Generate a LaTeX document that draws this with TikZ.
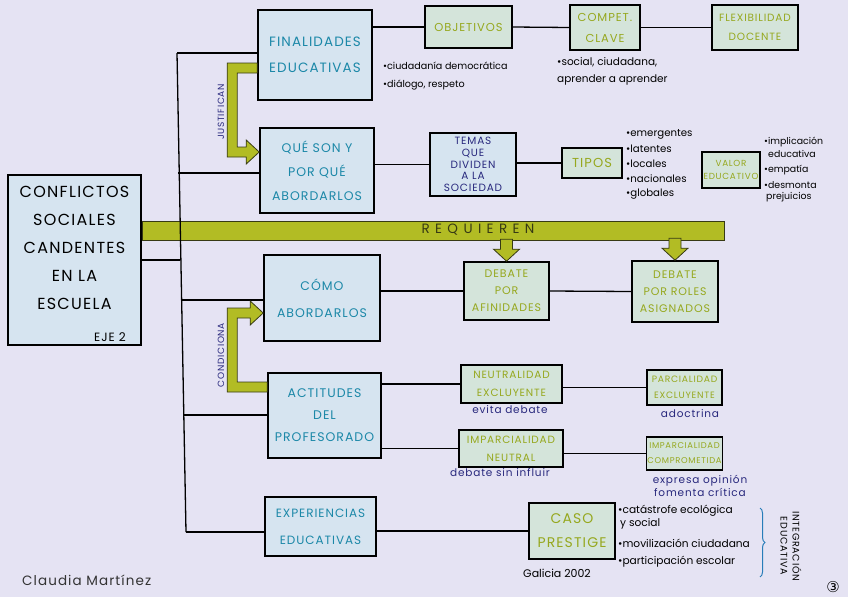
\documentclass[tikz,border=0pt]{standalone}
\usepackage{fontspec}
\setmainfont{Poppins}
\newfontfamily\boxf{Poppins}[LetterSpace=8]
\newfontfamily\widef{Poppins}[LetterSpace=40]
\newfontfamily\symf{DejaVu Sans}
\usetikzlibrary{arrows.meta,decorations.pathreplacing}
\definecolor{bg}{RGB}{229,227,243}
\definecolor{lfill}{RGB}{214,228,240}
\definecolor{rfill}{RGB}{212,228,218}
\definecolor{tealtx}{RGB}{28,136,168}
\definecolor{greentx}{RGB}{150,168,30}
\definecolor{notetx}{RGB}{40,40,125}
\definecolor{bandc}{RGB}{178,188,36}
\definecolor{bandedge}{RGB}{55,58,20}
\definecolor{bracec}{RGB}{40,125,185}
\tikzset{
  boxL/.style={draw=black, line width=1.6pt, fill=lfill, text=tealtx, align=center, inner sep=1pt},
  boxR/.style={draw=black, line width=1.6pt, fill=rfill, text=greentx, align=center, inner sep=1pt},
  conn/.style={draw=black, line width=1.3pt},
  barrow/.style={fill=bandc, draw=bandedge, line width=0.8pt, line join=miter},
  listtx/.style={anchor=west, text=black, inner sep=0pt},
  notetext/.style={text=notetx, inner sep=0pt, align=center},
  sidetx/.style={text=notetx, inner sep=0pt}
}
\newcommand{\fs}[2]{\boxf\fontsize{#1}{#2}\selectfont}
\newcommand{\ps}[2]{\fontsize{#1}{#2}\selectfont}
\begin{document}
\begin{tikzpicture}[x=1pt,y=-1pt]
\fill[bg] (0,0) rectangle (848,597);
\useasboundingbox (0,0) rectangle (848,597);

% main box
\node[draw=black, line width=1.6pt, fill=lfill, minimum width=133pt, minimum height=170pt, align=center, inner sep=0pt,
      font=\fs{16}{28}] (conf) at (74.5,260) {CONFLICTOS\\SOCIALES\\CANDENTES\\EN LA\\ESCUELA\\[-4pt]\mbox{}};
\node[font=\fs{12}{12}, inner sep=0pt] (eje) at (110,337) {EJE 2};

% REQUIEREN band
\node[barrow, minimum width=582pt, minimum height=19pt, inner sep=0pt, anchor=west] (req) at (conf.east |- 0,231) {};
\node[text=bandedge, font=\widef\fontsize{13.5}{14}\selectfont, inner sep=0pt] (reqt) at (478,230) {REQUIEREN};

% spine
\coordinate (sp1) at (177,53);
\coordinate (sp2) at (178,173);
\coordinate (sp3) at (180,260);
\coordinate (sp4) at (181,300);
\coordinate (sp5) at (183,415);
\coordinate (sp6) at (186,532);
\draw[conn] (sp1) -- (sp6);

% boxes, left column
\node[boxL, minimum width=114pt, minimum height=90pt, font=\fs{13.5}{26}] (fin) at (315,55) {FINALIDADES\\EDUCATIVAS};
\node[boxL, minimum width=114pt, minimum height=85pt, font=\fs{12.5}{24}] (qs) at (317,170.5) {QUÉ SON Y\\POR QUÉ\\ABORDARLOS};
\node[boxL, minimum width=116pt, minimum height=86pt, font=\fs{12.5}{27}] (cab) at (322,298) {CÓMO\\ABORDARLOS};
\node[boxL, minimum width=113pt, minimum height=85pt, font=\fs{12.5}{22}] (act) at (324.5,415.5) {ACTITUDES\\DEL\\PROFESORADO};
\node[boxL, minimum width=111pt, minimum height=59pt, font=\fs{12}{27}] (exp) at (320.5,526.5) {EXPERIENCIAS\\EDUCATIVAS};

% boxes, right
\node[boxR, minimum width=87pt, minimum height=42pt, font=\fs{11.5}{12}] (obj) at (468.5,27) {OBJETIVOS};
\node[boxR, minimum width=70pt, minimum height=45pt, font=\fs{11.5}{21}] (comp) at (605,27.5) {COMPET.\\CLAVE};
\node[boxR, minimum width=86pt, minimum height=45pt, font=\fs{10.5}{19}] (flex) at (755,27.5) {FLEXIBILIDAD\\DOCENTE};
\node[boxL, minimum width=86pt, minimum height=63pt, text=notetx, font=\fs{10.5}{11.8}] (temas) at (473,164.5) {TEMAS\\QUE\\DIVIDEN\\A LA\\SOCIEDAD};
\node[boxR, minimum width=60pt, minimum height=30pt, font=\fs{13}{14}] (tipos) at (592,163) {TIPOS};
\node[boxR, minimum width=58pt, minimum height=36pt, font=\fs{8.8}{13}] (valor) at (731,170) {VALOR\\EDUCATIVO};
\node[boxR, minimum width=85pt, minimum height=58pt, font=\fs{11}{17}] (deb1) at (506.5,291) {DEBATE\\POR\\AFINIDADES};
\node[boxR, minimum width=86pt, minimum height=61pt, font=\fs{11}{17}] (deb2) at (675,291.5) {DEBATE\\POR ROLES\\ASIGNADOS};
\node[boxR, minimum width=101pt, minimum height=38pt, font=\fs{10.5}{18}] (neu) at (511.5,384) {NEUTRALIDAD\\EXCLUYENTE};
\node[boxR, minimum width=75pt, minimum height=35pt, font=\fs{9.2}{16}] (par) at (684.5,387.5) {PARCIALIDAD\\EXCLUYENTE};
\node[boxR, minimum width=104pt, minimum height=37pt, font=\fs{10.5}{18}] (impn) at (511,448.5) {IMPARCIALIDAD\\NEUTRAL};
\node[boxR, minimum width=75pt, minimum height=33pt, font=\fs{8.4}{15}] (impc) at (684.5,453.5) {IMPARCIALIDAD\\COMPROMETIDA};
\node[boxR, minimum width=86pt, minimum height=56pt, font=\fs{14}{24}] (caso) at (572,531) {CASO\\PRESTIGE};

% spine branches
\draw[conn] (sp1) -- (fin.west |- sp1);
\draw[conn] (sp2) -- (qs.west |- sp2);
\draw[conn] (conf.east |- sp3) -- (sp3);
\draw[conn] (sp4) -- (cab.west |- sp4);
\draw[conn] (sp5) -- (act.west |- sp5);
\draw[conn] (sp6) -- (exp.west |- sp6);

% connectors
\draw[conn] (fin.east |- obj.west) -- (obj.west);
\draw[conn] (obj.east) -- (comp.west);
\draw[conn] (comp.east) -- (flex.west);
\draw[conn] (qs.east |- temas.west) -- (temas.west);
\draw[conn] (temas.east |- tipos.west) -- (tipos.west);
\draw[conn] (cab.east |- deb1.west) -- (deb1.west);
\draw[conn] (deb1.east) -- (deb2.west);
\draw[conn] (act.east |- neu.west) -- (neu.west);
\draw[conn] (neu.east |- par.west) -- (par.west);
\draw[conn] (act.east |- impn.west) -- (impn.west);
\draw[conn] (impn.east |- impc.west) -- (impc.west);
\draw[conn] (exp.east |- caso.west) -- (caso.west);

% REQUIEREN arrows
\draw[barrow] (deb1.north) -- ++(13,-12) -- ++(-7,0) -- ++(0,-10) -- ++(-12,0) -- ++(0,10) -- ++(-7,0) -- cycle;
\draw[barrow] (deb2.north) -- ++(13,-12) -- ++(-7,0) -- ++(0,-10) -- ++(-12,0) -- ++(0,10) -- ++(-7,0) -- cycle;

% JUSTIFICAN arrow
\draw[barrow] (qs.west |- 0,152) -- ++(-13,-12) -- ++(0,7) -- ++(-9,0) -- ++(0,-74) -- ++(20,0) -- ++(0,-10) -- ++(-30,0) -- ++(0,94) -- ++(19,0) -- ++(0,7) -- cycle;
\node[sidetx, rotate=90, font=\fs{9}{10}] (just) at (221,112) {JUSTIFICAN};

% CONDICIONA arrow
\draw[barrow] (cab.west |- 0,313) -- ++(-13,-12) -- ++(0,7) -- ++(-23,0) -- ++(0,84) -- ++(40,0) -- ++(0,-10) -- ++(-30,0) -- ++(0,-64) -- ++(13,0) -- ++(0,7) -- cycle;
\node[sidetx, rotate=90, font=\fs{9}{10}] (cond) at (221,355) {CONDICIONA};

% lists
\node[listtx, font=\ps{9.6}{10}] (l1) at (383,66) {\textbullet ciudadanía democrática};
\node[listtx, font=\ps{9.6}{10}] (l2) at (383,85) {\textbullet diálogo, respeto};
\node[listtx, font=\ps{10.5}{10}] (l3) at (557,62) {\textbullet social, ciudadana,};
\node[listtx, font=\ps{10.5}{10}] (l4) at (557,80) {aprender a aprender};

\node[listtx, font=\ps{10.2}{10}] (t1) at (626,134) {\textbullet emergentes};
\node[listtx, font=\ps{10.2}{10}] (t2) at (626,149) {\textbullet latentes};
\node[listtx, font=\ps{10.2}{10}] (t3) at (626,164) {\textbullet locales};
\node[listtx, font=\ps{10.2}{10}] (t4) at (626,179) {\textbullet nacionales};
\node[listtx, font=\ps{10.2}{10}] (t5) at (626,194) {\textbullet globales};

\node[listtx, font=\ps{9.4}{9}] (v1) at (764,142) {\textbullet implicación};
\node[listtx, font=\ps{9.4}{9}] (v2) at (768,154) {educativa};
\node[listtx, font=\ps{9.4}{9}] (v3) at (764,170) {\textbullet empatía};
\node[listtx, font=\ps{9.4}{9}] (v4) at (764,185) {\textbullet desmonta};
\node[listtx, font=\ps{9.4}{9}] (v5) at (766,197) {prejuicios};

\node[listtx, font=\ps{10.6}{10}] (c1) at (618,511) {\textbullet catástrofe ecológica};
\node[listtx, font=\ps{10.6}{10}] (c2) at (620,524) {y social};
\node[listtx, font=\ps{10.6}{10}] (c3) at (618,543) {\textbullet movilización ciudadana};
\node[listtx, font=\ps{10.6}{10}] (c4) at (618,562) {\textbullet participación escolar};

% notes
\node[notetext, font=\fs{10.5}{13}] (n1) at (510,410) {evita debate};
\node[notetext, font=\fs{10.5}{13}] (n2) at (690,414) {adoctrina};
\node[notetext, font=\fs{10.5}{13}] (n3) at (500,473) {debate sin influir};
\node[notetext, font=\fs{10.5}{13}] (n4) at (700,485.5) {expresa opinión\\fomenta crítica};
\node[text=black, inner sep=0pt, font=\ps{11}{12}] (gal) at (557,573) {Galicia 2002};

% brace and side label
\coordinate (brt) at (760,508);
\coordinate (brb) at (760,577);
\draw[bracec, line width=1pt, decorate, decoration={brace, amplitude=5pt}] (brt) -- (brb);
\node[text=black, rotate=-90, align=center, inner sep=0pt, font=\fs{9.5}{12}] (integ) at (791,546) {INTEGRACIÓN\\EDUCATIVA};
\node[text=black, inner sep=0pt, font=\symf\fontsize{15}{15}\selectfont] (num) at (833,587) {③};

\node[text=black!80, anchor=west, inner sep=0pt, font=\fs{13.5}{14}] (auth) at (22,580) {Claudia Martínez};
\end{tikzpicture}
\end{document}
